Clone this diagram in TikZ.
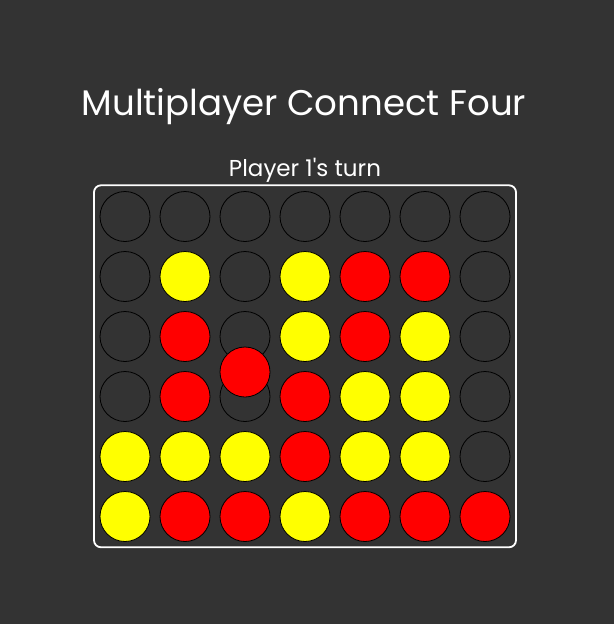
\documentclass[tikz,border=0pt]{standalone}
\usepackage{fontspec}
\setmainfont{Poppins}[Ligatures=TeXOff]
\usepackage{tikz}
\usetikzlibrary{positioning}
\definecolor{cfbg}{RGB}{51,51,51}
\definecolor{cfE}{RGB}{51,51,51}
\definecolor{cfR}{RGB}{255,0,0}
\definecolor{cfY}{RGB}{255,255,0}
\tikzstyle{slot} = [circle, minimum size=50pt, inner sep=0pt, draw=black, line width=0.8pt]
\tikzstyle{boardbox} = [rectangle, rounded corners=7pt, minimum width=422pt, minimum height=362pt, draw=white, line width=1.8pt]
\tikzstyle{heading} = [text=white, anchor=base, inner sep=0pt]

\begin{document}
\begin{tikzpicture}[x=1pt,y=-1pt]
\fill[cfbg] (0,0) rectangle (614,624);
% Headings
\node[heading, font=\fontsize{35.6}{42}\selectfont] (title) at (304,115.7) {Multiplayer Connect Four};
\node[heading, font=\fontsize{23}{28}\selectfont] (turn) at (305,176.7) {Player 1's turn};
% Board
\node[boardbox] (board) at (305,366.3) {};
\foreach \line [count=\r] in {{E,E,E,E,E,E,E},{E,Y,E,Y,R,R,E},{E,R,E,Y,R,Y,E},{E,R,E,R,Y,Y,E},{Y,Y,Y,R,Y,Y,E},{Y,R,R,Y,R,R,R}}
  \foreach \p [count=\c] in \line
    \node[slot, fill=cf\p] (s\r\c) at ({65+60*\c},{156.5+60*\r}) {};
% Falling piece
\node[slot, fill=cfR] (drop) at (245,372) {};
\end{tikzpicture}
\end{document}
